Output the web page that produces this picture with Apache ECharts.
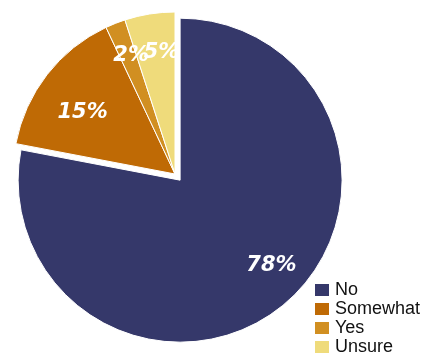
<!DOCTYPE html>
<html>
<head>
<meta charset="utf-8">
<script src="https://cdn.jsdelivr.net/npm/echarts@6/dist/echarts.min.js"></script>
<style>
  html, body { margin: 0; padding: 0; background: #fff; }
  #chart { width: 427px; height: 362px; }
</style>
</head>
<body>
<div id="chart"></div>
<script>
// answers and shares (%)
const categories = ['No', 'Somewhat', 'Yes', 'Unsure']
const values = [78, 15, 2, 5]
const colors = ['#35386a', '#bf6a05', '#d18f21', '#efdb7b']

// small nudges so the labels sit where the original put them
const labelNudge = [[12, -11], [6, 15], [2, -3], [6, 2]]

const chart = echarts.init(document.getElementById('chart'))

const pieData = categories.map((name, i) => ({
  name: name,
  value: values[i],
  selected: i === 0,
  itemStyle: { color: colors[i] }
}))

const option = {
  animation: false,
  legend: {
    orient: 'vertical',
    left: 313,
    top: 281,
    height: 100,
    padding: 0,
    icon: 'rect',
    itemWidth: 16,
    itemHeight: 14,
    itemGap: 1,
    selectedMode: false,
    data: categories,
    textStyle: {
      fontFamily: 'Liberation Sans',
      fontSize: 18,
      lineHeight: 18,
      color: '#111',
      padding: [0, 0, 0, 0]
    }
  },
  series: [
    {
      type: 'pie',
      center: [175, 174],
      radius: [0, 162],
      startAngle: 90,
      clockwise: true,
      selectedMode: 'single',
      selectedOffset: 8,
      silent: true,
      itemStyle: { borderColor: '#fff', borderWidth: 1 },
      label: { show: false },
      labelLine: { show: false },
      data: pieData
    },
    {
      // label carrier: same slices, ring so labels sit at 3/4 radius
      type: 'pie',
      center: [175, 174],
      radius: [81, 162],
      startAngle: 90,
      clockwise: true,
      selectedMode: 'single',
      selectedOffset: 8,
      silent: true,
      itemStyle: { color: 'transparent', borderWidth: 0 },
      label: {
        show: true,
        position: 'inside',
        formatter: '{c}%',
        color: '#fff',
        fontFamily: 'DejaVu Sans',
        fontWeight: 'bold',
        fontStyle: 'italic',
        fontSize: 21
      },
      labelLine: { show: false },
      labelLayout: (params) => {
        const n = labelNudge[params.dataIndex]
        return { dx: n[0], dy: n[1] }
      },
      data: pieData.map((d) => ({ name: d.name, value: d.value, selected: d.selected }))
    }
  ]
}

chart.setOption(option)
</script>
</body>
</html>
